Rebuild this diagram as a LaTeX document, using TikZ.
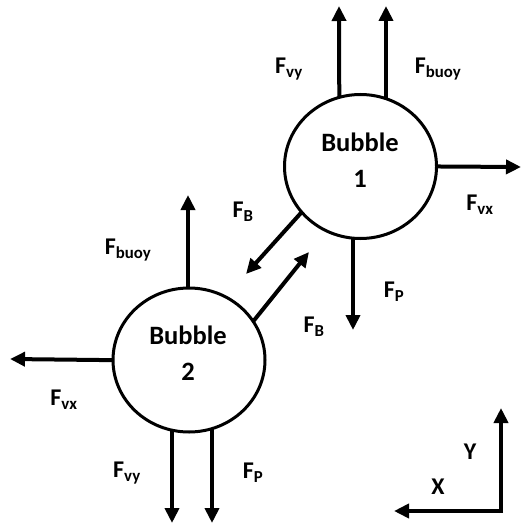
\documentclass[tikz,border=0pt]{standalone}
\usepackage{fontspec}
\setmainfont{Carlito}
\usetikzlibrary{arrows.meta,shapes.geometric,backgrounds}
\begin{document}
\begin{tikzpicture}[x=1pt,y=-1pt,
  force/.style={line width=4pt,-{Triangle[length=15pt,width=14pt]}},
  bub/.style={ellipse,draw,line width=3pt,fill=white,minimum width=152pt,minimum height=144pt,inner sep=0pt},
  lbl/.style={font=\bfseries\fontsize{24}{28}\selectfont,inner sep=0pt},
  btxt/.style={font=\bfseries\fontsize{26.5}{36}\selectfont,inner sep=0pt,align=center}]
\useasboundingbox (0,0) rectangle (520,524);
% bubbles
\node[bub] (b1) at (360.5,166.5) {};
\node[bub] (b2) at (189,360) {};
\node[btxt] (t1) at (360,160) {Bubble\\1};
\node[btxt] (t2) at (188,353) {Bubble\\2};
% tips
\coordinate (u1a) at (339,6);
\coordinate (u1b) at (386,6);
\coordinate (r1) at (521,167);
\coordinate (d1) at (353,330);
\coordinate (fb1) at (246,274);
\coordinate (fb2) at (309,252);
\coordinate (u2) at (188,195);
\coordinate (l2) at (10,359);
\coordinate (d2a) at (172,523);
\coordinate (d2b) at (212,523);
\begin{scope}[on background layer]
\draw[force] ([xshift=-21pt]b1.center) -- (u1a);
\draw[force] ([xshift=25.5pt]b1.center) -- (u1b);
\draw[force] ([yshift=0.5pt]b1.center) -- (r1);
\draw[force] ([xshift=-7.5pt]b1.center) -- (d1);
\draw[force] (b1.center) ++(298-360.5,211-166.5) ++(20,-17) -- (fb1);
\draw[force] (b2.center) ++(255-189,320-360) ++(-20,24) -- (fb2);
\draw[force] ([xshift=-1pt]b2.center) -- (u2);
\draw[force] ([yshift=-1pt]b2.center) -- (l2);
\draw[force] ([xshift=-17pt]b2.center) -- (d2a);
\draw[force] ([xshift=23pt]b2.center) -- (d2b);
\end{scope}
% labels
\node[lbl] (l1) at (289,69) {F\textsubscript{vy}};
\node[lbl] (l2t) at (438,69) {F\textsubscript{buoy}};
\node[lbl] (l3) at (480,205) {F\textsubscript{vx}};
\node[lbl] (l4) at (394,292) {F\textsubscript{P}};
\node[lbl] (l5) at (243,212) {F\textsubscript{B}};
\node[lbl] (l6) at (314,327) {F\textsubscript{B}};
\node[lbl] (l7) at (128,250) {F\textsubscript{buoy}};
\node[lbl] (l8) at (64,400) {F\textsubscript{vx}};
\node[lbl] (l9) at (127,473) {F\textsubscript{vy}};
\node[lbl] (l10) at (253,473) {F\textsubscript{P}};
% axes
\coordinate (o) at (501,511);
\coordinate (ay) at (501,408);
\coordinate (ax) at (394,511);
\draw[force] ([yshift=-2pt]o) -- (ay);
\draw[force] ([xshift=2pt]o) -- (ax);
\node[lbl] (ylab) at (470,452) {Y};
\node[lbl] (xlab) at (438,487) {X};
\end{tikzpicture}
\end{document}
